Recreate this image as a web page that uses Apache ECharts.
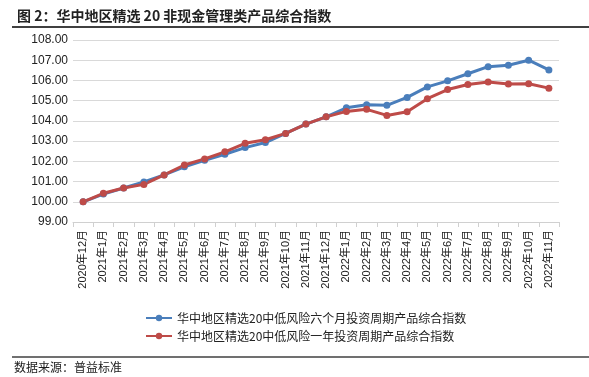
<!DOCTYPE html>
<html>
<head>
<meta charset="utf-8">
<script src="https://cdn.jsdelivr.net/npm/echarts@6/dist/echarts.min.js"></script>
<style>
  html, body { margin: 0; padding: 0; background: #fff; }
  #chart { width: 589px; height: 377px; }
</style>
</head>
<body>
<div id="chart"></div>
<script>
const months = [
  "2020年12月", "2021年1月", "2021年2月", "2021年3月", "2021年4月", "2021年5月",
  "2021年6月", "2021年7月", "2021年8月", "2021年9月", "2021年10月", "2021年11月",
  "2021年12月", "2022年1月", "2022年2月", "2022年3月", "2022年4月", "2022年5月",
  "2022年6月", "2022年7月", "2022年8月", "2022年9月", "2022年10月", "2022年11月"
];
const sixMonth = [
  100.00, 100.38, 100.68, 100.98, 101.33, 101.73, 102.05, 102.35, 102.68, 102.93, 103.38, 103.84,
  104.20, 104.65, 104.80, 104.77, 105.16, 105.68, 105.98, 106.33, 106.68, 106.75, 107.00, 106.52
];
const oneYear = [
  100.00, 100.42, 100.68, 100.86, 101.33, 101.82, 102.12, 102.47, 102.89, 103.07, 103.38, 103.84,
  104.20, 104.47, 104.57, 104.27, 104.45, 105.10, 105.55, 105.80, 105.92, 105.82, 105.84, 105.62
];
const seriesNames = [
  "华中地区精选20中低风险六个月投资周期产品综合指数",
  "华中地区精选20中低风险一年投资周期产品综合指数"
];

const chart = echarts.init(document.getElementById("chart"), null, { renderer: "canvas" });
const cjk = "'Noto Sans CJK SC', sans-serif";

chart.setOption({
  animation: false,
  backgroundColor: "#fff",
  title: {
    text: "图 2：华中地区精选 20 非现金管理类产品综合指数",
    left: 12,
    top: 4,
    textStyle: { fontFamily: cjk, fontSize: 14, fontWeight: 600, color: "#222" }
  },
  graphic: [
    { type: "line", shape: { x1: 12, y1: 27, x2: 589, y2: 27 }, style: { stroke: "#404040", lineWidth: 2 } },
    { type: "line", shape: { x1: 12, y1: 357, x2: 589, y2: 357 }, style: { stroke: "#404040", lineWidth: 1.5 } },
    {
      type: "text", left: 14, top: 361,
      style: { text: "数据来源：普益标准", font: "12px 'Noto Sans CJK SC'", fill: "#1a1a1a" }
    }
  ],
  legend: {
    orient: "vertical",
    left: 140,
    top: 307,
    itemGap: 6,
    itemWidth: 26,
    itemHeight: 8,
    textStyle: { fontFamily: cjk, fontSize: 12, color: "#222" },
    data: seriesNames
  },
  grid: { left: 73, right: 30, top: 40, bottom: 155 },
  xAxis: {
    type: "category",
    data: months,
    boundaryGap: true,
    axisLine: { lineStyle: { color: "#d0d0d0" } },
    axisTick: { show: true, length: 5, lineStyle: { color: "#d0d0d0" } },
    axisLabel: {
      interval: 0,
      rotate: 90,
      fontSize: 11,
      fontFamily: "'Liberation Sans', " + cjk,
      color: "#222",
      margin: 8
    }
  },
  yAxis: {
    type: "value",
    min: 99,
    max: 108,
    interval: 1,
    axisLine: { show: false },
    axisTick: { show: false },
    splitLine: { lineStyle: { color: "#d9d9d9" } },
    axisLabel: {
      fontSize: 12,
      fontFamily: "'Liberation Sans', sans-serif",
      color: "#222",
      margin: 5,
      formatter: v => v.toFixed(2)
    }
  },
  series: [
    {
      name: seriesNames[0],
      type: "line",
      data: sixMonth,
      symbol: "circle",
      symbolSize: 7,
      lineStyle: { width: 3, color: "#4a7ebb" },
      itemStyle: { color: "#4a7ebb" }
    },
    {
      name: seriesNames[1],
      type: "line",
      data: oneYear,
      symbol: "circle",
      symbolSize: 7,
      lineStyle: { width: 3, color: "#be4b48" },
      itemStyle: { color: "#be4b48" }
    }
  ]
});
</script>
</body>
</html>
